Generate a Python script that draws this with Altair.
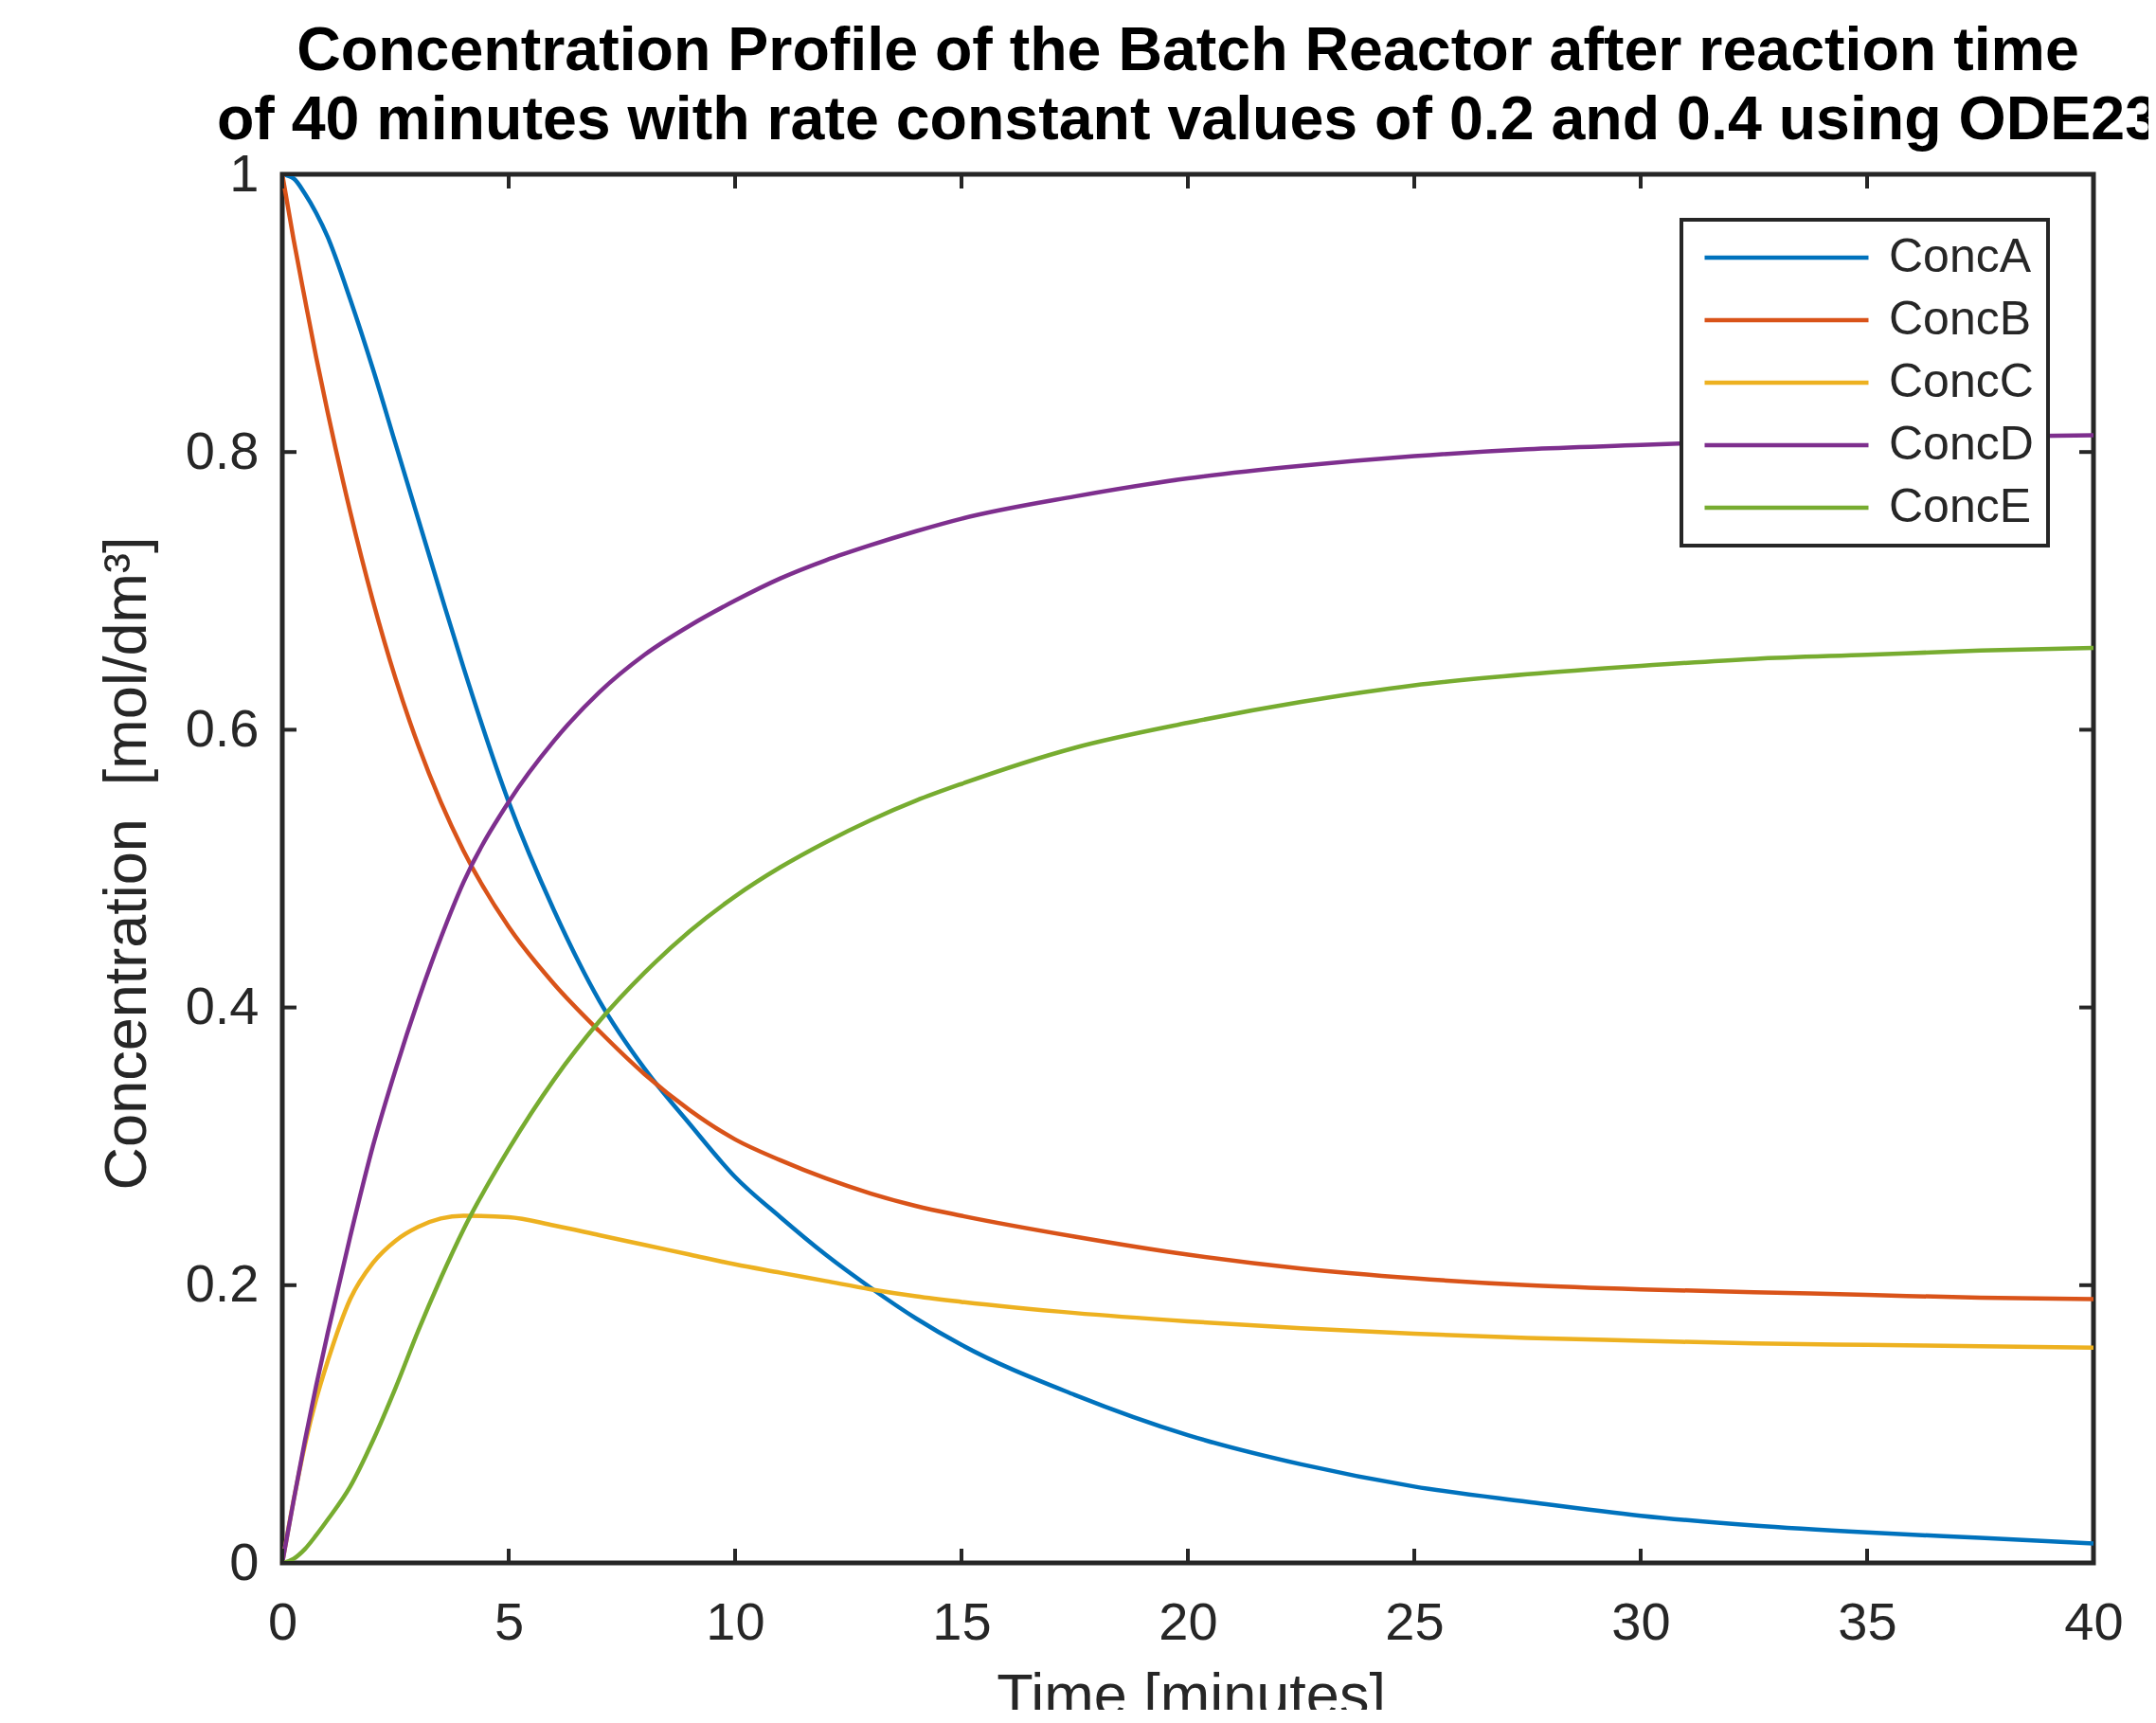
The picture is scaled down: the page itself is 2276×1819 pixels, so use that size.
import altair as alt
import pandas as pd

# ---- data ----
time_min = [0, 0.25, 0.5, 0.75, 1, 1.5, 2, 2.5, 3, 3.5, 4, 5, 6, 7, 8, 9, 10, 11, 12,
            13, 14, 15, 17.5, 20, 22.5, 25, 27.5, 30, 32.5, 35, 37.5, 40]
conc_a = [1.0, 0.997, 0.986, 0.972, 0.955, 0.910, 0.860, 0.806, 0.752, 0.698, 0.645, 0.548,
          0.470, 0.405, 0.356, 0.316, 0.278, 0.249, 0.222, 0.198, 0.176, 0.157, 0.121,
          0.092, 0.071, 0.055, 0.044, 0.034, 0.027, 0.022, 0.018, 0.014]
conc_b = [1.0, 0.953, 0.910, 0.868, 0.829, 0.757, 0.693, 0.637, 0.589, 0.548, 0.513, 0.458,
          0.417, 0.383, 0.352, 0.326, 0.305, 0.290, 0.277, 0.266, 0.257, 0.250, 0.235,
          0.222, 0.212, 0.205, 0.200, 0.197, 0.195, 0.193, 0.191, 0.190]
conc_c = [0.0, 0.045, 0.085, 0.118, 0.145, 0.190, 0.216, 0.232, 0.242, 0.248, 0.250, 0.249,
          0.243, 0.236, 0.229, 0.222, 0.215, 0.209, 0.203, 0.197, 0.192, 0.188, 0.180,
          0.174, 0.169, 0.165, 0.162, 0.160, 0.158, 0.157, 0.156, 0.155]
conc_d = [0.0, 0.045, 0.088, 0.128, 0.165, 0.235, 0.300, 0.355, 0.405, 0.450, 0.490, 0.548,
          0.592, 0.627, 0.654, 0.675, 0.693, 0.709, 0.722, 0.733, 0.743, 0.752, 0.768,
          0.781, 0.790, 0.797, 0.802, 0.805, 0.808, 0.810, 0.811, 0.812]
conc_e = [0.0, 0.003, 0.010, 0.020, 0.031, 0.055, 0.088, 0.126, 0.167, 0.205, 0.240, 0.298,
          0.348, 0.390, 0.425, 0.455, 0.480, 0.501, 0.519, 0.535, 0.549, 0.561, 0.587,
          0.605, 0.620, 0.632, 0.640, 0.646, 0.651, 0.654, 0.657, 0.659]

series_names = ["ConcA", "ConcB", "ConcC", "ConcD", "ConcE"]
series_colors = ["#0072BD", "#D95319", "#EDB120", "#7E2F8E", "#77AC30"]
x_ticks = [0, 5, 10, 15, 20, 25, 30, 35, 40]
y_ticks = [0, 0.2, 0.4, 0.6, 0.8, 1.0]

title_lines = ["Concentration Profile of the Batch Reactor after reaction time",
               "of 40 minutes with rate constant values of 0.2 and 0.4 using ODE23"]
x_title = "Time [minutes]"
y_title = "Concentration\u00a0\u00a0[mol/dm\u00b3]"

# ---- tables ----
rows = []
for name, vals in zip(series_names, [conc_a, conc_b, conc_c, conc_d, conc_e]):
    for t, v in zip(time_min, vals):
        rows.append({"time": t, "conc": v, "series": name})
df = pd.DataFrame(rows)
xt = pd.DataFrame({"time": x_ticks})
yt = pd.DataFrame({"conc": y_ticks})

W, H = 1912, 1466
FONT = "Liberation Sans"
INK = "#262626"
TICK = 15

x_axis = alt.Axis(values=x_ticks, title=x_title, grid=False, domain=False, ticks=False,
                  tickSize=0, labelFontSize=56, labelFont=FONT, labelColor=INK,
                  labelPadding=36, labelFlush=False, titleFontSize=63, titleFont=FONT,
                  titleFontWeight="normal", titleColor=INK, titleX=W / 2 + 3,
                  titleY=160, titleBaseline="alphabetic", titleAlign="center")
y_axis = alt.Axis(values=y_ticks, title=y_title, format="~g", grid=False, domain=False,
                  ticks=False, tickSize=0, labelFontSize=56, labelFont=FONT,
                  labelColor=INK, labelPadding=25, labelFlush=False, titleFontSize=63,
                  titleFont=FONT, titleFontWeight="normal", titleColor=INK,
                  titleAngle=270, titleX=-145, titleY=727, titleBaseline="alphabetic",
                  titleAlign="center")

xs = alt.Scale(domain=[0, 40], nice=False, zero=False)
ys = alt.Scale(domain=[0, 1], nice=False, zero=False)

lines = alt.Chart(df).mark_line(strokeWidth=4.5, interpolate="monotone").encode(
    x=alt.X("time:Q", scale=xs, axis=x_axis),
    y=alt.Y("conc:Q", scale=ys, axis=y_axis),
    color=alt.Color(
        "series:N",
        scale=alt.Scale(domain=series_names, range=series_colors),
        legend=alt.Legend(title=None, orient="none", legendX=1477, legendY=48,
                          symbolType="stroke", symbolSize=29929, symbolStrokeWidth=4.5,
                          clipHeight=50, rowPadding=16, labelFontSize=50,
                          labelFont=FONT, labelColor=INK, labelOffset=19,
                          labelLimit=400, padding=15, symbolOffset=7,
                          strokeColor=INK, fillColor="white"),
    ),
)

tick_style = dict(color=INK, strokeWidth=4)
bottom_ticks = alt.Chart(xt).mark_rule(**tick_style).encode(
    x=alt.X("time:Q", scale=xs, axis=x_axis), y=alt.value(H), y2=alt.value(H - TICK))
top_ticks = alt.Chart(xt).mark_rule(**tick_style).encode(
    x=alt.X("time:Q", scale=xs, axis=x_axis), y=alt.value(0), y2=alt.value(TICK))
left_ticks = alt.Chart(yt).mark_rule(**tick_style).encode(
    y=alt.Y("conc:Q", scale=ys, axis=y_axis), x=alt.value(0), x2=alt.value(TICK))
right_ticks = alt.Chart(yt).mark_rule(**tick_style).encode(
    y=alt.Y("conc:Q", scale=ys, axis=y_axis), x=alt.value(W), x2=alt.value(W - TICK))

chart = alt.layer(lines, bottom_ticks, top_ticks, left_ticks, right_ticks).properties(
    width=W, height=H,
    background="white",
    autosize=alt.AutoSizeParams(type="none"),
    padding={"left": 290, "top": 176, "right": 58, "bottom": 155},
    title=alt.TitleParams(text=title_lines, fontSize=64.5, font=FONT, fontWeight="bold",
                          color="black", lineHeight=73, frame="group", anchor="middle",
                          offset=-4),
).configure_view(stroke=INK, strokeWidth=5).configure_legend(strokeWidth=4)

chart.save("out.html", embed_options={"renderer": "svg", "actions": False})
